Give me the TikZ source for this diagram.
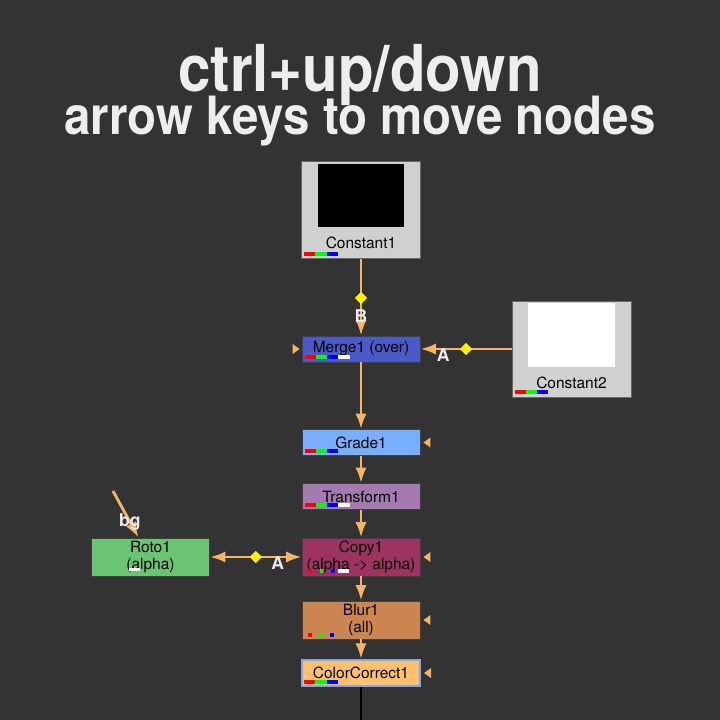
\documentclass[tikz,border=0pt]{standalone}
\usepackage{fontspec}
\setmainfont{TeX Gyre Heros}
\usetikzlibrary{arrows.meta,positioning,shapes.geometric,calc}

\definecolor{bgdark}{HTML}{333333}
\definecolor{titlecol}{HTML}{EEEEEE}
\definecolor{wirecol}{HTML}{F5B466}
\definecolor{constgray}{HTML}{D0D0D0}
\definecolor{mergecol}{HTML}{4A5AC8}
\definecolor{gradecol}{HTML}{7AAEFF}
\definecolor{xformcol}{HTML}{A57AB0}
\definecolor{copycol}{HTML}{9D3360}
\definecolor{rotocol}{HTML}{6AC473}
\definecolor{blurcol}{HTML}{CC8450}
\definecolor{cccol}{HTML}{FFC06E}
\definecolor{selblue}{HTML}{80A8E8}

% channel bars along the bottom of a node
\newcommand{\chanbars}[2]{%
  \foreach \c [count=\i from 0] in {#2}
    \fill[\c] ($(#1.south west)+(3+11.3*\i,-3)$) rectangle +(11.3,-4);}
% mask input triangle on the right side
\newcommand{\maskin}[1]{%
  \fill[wirecol] ($(#1.east)+(3,0)$) -- +(7,-5) -- +(7,5) -- cycle;}

\begin{document}
\begin{tikzpicture}[
  x=0.025cm, y=-0.025cm,
  >={Latex[length=11pt,width=8pt]},
  every node/.style={font=\fontsize{11}{12.5}\selectfont},
  nukenode/.style={rectangle, draw=black!75, line width=0.6pt, minimum width=2.95cm, minimum height=0.65cm, inner sep=0pt, align=center, text=black},
  tallnode/.style={nukenode, minimum height=0.95cm},
  constnode/.style={rectangle, draw=black!60, line width=0.6pt, fill=constgray, minimum width=2.975cm, minimum height=2.425cm, inner sep=0pt},
  wire/.style={draw=wirecol, line width=2pt},
  knot/.style={diamond, fill=yellow, inner sep=0pt, minimum size=9.5pt},
  pin/.style={font=\bfseries\fontsize{12.5}{13}\selectfont, text=white!92!black, inner sep=0pt},
  title/.style={text=titlecol, anchor=base, inner sep=0pt, text depth=0pt}
]
  \useasboundingbox (0,0) rectangle (720,720);
  \fill[bgdark] (0,0) rectangle (720,720);

  % title
  \node[title, font=\bfseries\fontsize{46}{46}\selectfont] (headline) at (360,92) {\scalebox{0.9}[1]{ctrl+up/down}};
  \node[title, font=\bfseries\fontsize{37.5}{38}\selectfont] (subline) at (360,135) {\scalebox{0.9}[1]{arrow keys to move nodes}};

  % constants
  \node[constnode] (const1) at (361,210) {};
  \fill[black] ($(const1.north)+(-43,3)$) rectangle +(86,63);
  \node (const1lbl) at ($(const1.south)+(0,-16)$) {Constant1};
  \chanbars{const1}{red,green,blue}

  \node[constnode, minimum height=2.4cm] (const2) at (571.5,349) {};
  \fill[white] ($(const2.north)+(-43.5,2)$) rectangle +(87,64);
  \node (const2lbl) at ($(const2.south)+(0,-15)$) {Constant2};
  \chanbars{const2}{red,green,blue}

  % main stream
  \node[nukenode, fill=mergecol] (merge) at (361,349) {Merge1 (over)};
  \node[nukenode, fill=gradecol] (grade) at (361,442.5) {Grade1};
  \node[nukenode, fill=xformcol] (transform) at (361,496.5) {Transform1};
  \node[tallnode, fill=copycol] (copy) at (361,557) {Copy1\\(alpha -> alpha)};
  \node[tallnode, fill=rotocol] (roto) at (150.5,557) {Roto1\\(alpha)};
  \node[tallnode, fill=blurcol] (blur) at (361,620) {Blur1\\(all)};
  \node[nukenode, fill=cccol, draw=selblue, line width=1.5pt] (cc) at (361,673) {ColorCorrect1};

  \chanbars{merge}{red,green,blue,white}
  \chanbars{grade}{red,green,blue}
  \chanbars{transform}{red,green,blue,white}
  \chanbars{cc}{red,green,blue}
  \foreach \c/\dx/\w in {red/7/3, green/18/3, blue/29/4, white/36/11}
    \fill[\c] ($(copy.south west)+(\dx,-3)$) rectangle +(\w,-4);
  \fill[white] ($(roto.south west)+(38,-5)$) rectangle +(11,-3);
  \foreach \c/\dx in {red/6, green/17, blue/28}
    \fill[\c] ($(blur.south west)+(\dx,-2)$) rectangle +(4,-4);

  % mask inputs
  \fill[wirecol] ($(merge.west)+(-2,0)$) -- +(-7,-5) -- +(-7,5) -- cycle;
  \maskin{grade}
  \maskin{copy}
  \maskin{blur}
  \maskin{cc}

  % wires
  \draw[wire,->] (const1) -- node[knot, pos=0.51] {} node[pin, pos=0.74] {B} (merge);
  \draw[wire,->] (const2) -- node[knot, pos=0.5] {} node[pin, pos=0.75, yshift=-4pt] {A} (merge);
  \draw[wire,<->] (roto) -- node[knot, pos=0.5] {} node[pin, pos=0.74, yshift=-4pt] {A} (copy);
  \coordinate (bgtail) at (113,491);
  \draw[wire,->] (bgtail) -- node[pin, pos=0.66] {bg} ($(roto.north)+(-12,0)$);
  \foreach \a/\b in {merge/grade, grade/transform, transform/copy, copy/blur, blur/cc}
    \draw[wire,->] (\a) -- (\b);

  % output
  \coordinate (viewer) at (361,720);
  \draw[black, line width=2pt] (cc) -- (viewer);
\end{tikzpicture}
\end{document}
